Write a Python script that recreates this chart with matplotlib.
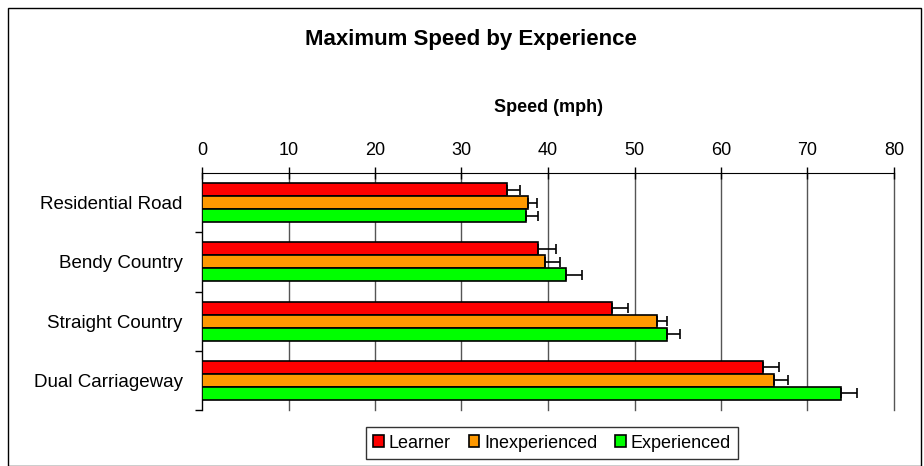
import numpy as np
import matplotlib
matplotlib.use("Agg")
import matplotlib.pyplot as plt
from matplotlib.patches import Rectangle

plt.rcParams["font.family"] = ["Liberation Sans", "DejaVu Sans"]

roads = ["Residential Road", "Bendy Country", "Straight Country", "Dual Carriageway"]
groups = ["Learner", "Inexperienced", "Experienced"]
colors = ["#ff0000", "#ff9900", "#00ff00"]

learner = [35.3, 38.8, 47.4, 64.9]
inexperienced = [37.7, 39.6, 52.6, 66.1]
experienced = [37.5, 42.1, 53.8, 73.9]

learner_err = [1.5, 2.1, 1.8, 1.8]
inexperienced_err = [1.0, 1.8, 1.2, 1.6]
experienced_err = [1.4, 1.8, 1.5, 1.8]

values = [learner, inexperienced, experienced]
errors = [learner_err, inexperienced_err, experienced_err]

fig = plt.figure(figsize=(9.24, 4.66), dpi=100)
ax = fig.add_axes([202 / 924, 1 - 410 / 466, 692 / 924, 237 / 466])

y = np.arange(len(roads))
h = 0.22
for i, (vals, errs) in enumerate(zip(values, errors)):
    pos = y + (i - 1) * h
    ax.barh(pos, vals, height=h, color=colors[i], edgecolor="black",
            linewidth=1.2, label=groups[i], zorder=3)
    ax.errorbar(vals, pos, xerr=[np.zeros(len(errs)), errs], fmt="none",
                ecolor="black", elinewidth=1.2, capsize=3.5, capthick=1.2, zorder=4)

ax.set_xlim(0, 80)
ax.set_ylim(len(roads) - 0.5, -0.5)
ax.set_xticks(np.arange(0, 81, 10))
ax.xaxis.tick_top()
ax.xaxis.set_label_position("top")
ax.tick_params(axis="x", direction="inout", length=8, width=1, colors="black",
               labelsize=13, pad=6)
ax.set_yticks(y)
ax.set_yticklabels(roads, fontsize=13.5)
ax.tick_params(axis="y", length=0, pad=14)
ax.set_yticks(np.arange(0.5, len(roads), 1), minor=True)
ax.tick_params(axis="y", which="minor", length=5, width=1, direction="out")

ax.grid(axis="x", color="#555555", linewidth=1, zorder=0)
for gl in ax.get_xgridlines():
    gl.set_clip_on(False)
ax.spines["right"].set_visible(False)
ax.spines["bottom"].set_visible(False)
ax.spines["top"].set_color("black")
ax.spines["left"].set_color("black")

ax.set_xlabel("Speed (mph)", fontsize=13, fontweight="bold", labelpad=22)

fig.text(0.51, 1 - 40 / 466, "Maximum Speed by Experience", ha="center",
         va="center", fontsize=16, fontweight="bold")

leg = fig.legend(loc="center", bbox_to_anchor=(552 / 924, 1 - 443 / 466), ncol=3,
                 fontsize=13, frameon=True, fancybox=False, edgecolor="black",
                 handlelength=0.6, handleheight=0.6, handletextpad=0.25,
                 columnspacing=1.0, borderpad=0.4)
leg.get_frame().set_linewidth(1)

fig.patches.append(Rectangle((8 / 924, 0), 913 / 924, 1 - 8 / 466,
                             transform=fig.transFigure, fill=False,
                             edgecolor="black", linewidth=1))

fig.savefig("out.png", dpi=100)
